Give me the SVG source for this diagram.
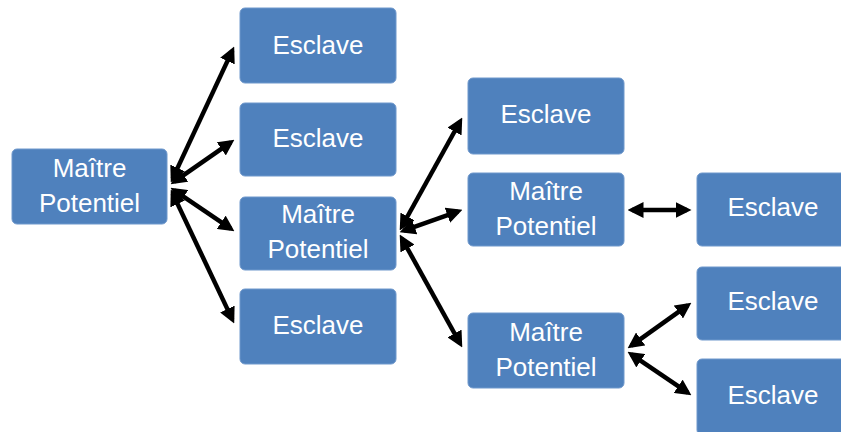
<svg xmlns="http://www.w3.org/2000/svg" width="841" height="432" viewBox="0 0 841 432">
  <style>
    .box { fill: #4f81bd; stroke: #6f98cc; stroke-width: 1; }
    .lbl { fill: #ffffff; font-family: "Liberation Sans", Arial, sans-serif; font-size: 26px; text-anchor: middle; }
    .link { stroke: #000000; stroke-width: 4.5; fill: none; marker-start: url(#head); marker-end: url(#head); }
  </style>
  <defs>
    <marker id="head" viewBox="0 0 16 16" markerWidth="16" markerHeight="16" markerUnits="userSpaceOnUse" refX="11.5" refY="8" orient="auto-start-reverse">
      <path d="M0,0 L16,8 L0,16 z" fill="#000000"/>
    </marker>
  </defs>

  <rect width="841" height="432" fill="#ffffff"/>

  <!-- connectors -->
  <g id="connectors">
    <line class="link" x1="172.7" y1="178.4" x2="232.3" y2="50.6"/>
    <line class="link" x1="174.3" y1="181.7" x2="230.7" y2="142.3"/>
    <line class="link" x1="174.3" y1="190.3" x2="230.7" y2="228.7"/>
    <line class="link" x1="172.7" y1="193.6" x2="232.3" y2="319.4"/>
    <line class="link" x1="401.9" y1="226.5" x2="460.1" y2="121.5"/>
    <line class="link" x1="403.8" y1="230.7" x2="458.2" y2="211.3"/>
    <line class="link" x1="401.9" y1="238.5" x2="460.1" y2="343.5"/>
    <line class="link" x1="632" y1="210" x2="687" y2="210"/>
    <line class="link" x1="631.3" y1="345.7" x2="687.7" y2="305.3"/>
    <line class="link" x1="631.3" y1="354.3" x2="687.7" y2="392.7"/>
  </g>

  <!-- first level -->
  <g id="maitre-1">
    <rect class="box" x="12" y="149" width="155" height="75" rx="5"/>
    <text class="lbl" x="89.5" y="177">Maître</text>
    <text class="lbl" x="89.5" y="212">Potentiel</text>
  </g>

  <!-- second level -->
  <g id="esclave-1">
    <rect class="box" x="240" y="8" width="156" height="75" rx="5"/>
    <text class="lbl" x="318" y="54">Esclave</text>
  </g>
  <g id="esclave-2">
    <rect class="box" x="240" y="103" width="156" height="73" rx="5"/>
    <text class="lbl" x="318" y="147">Esclave</text>
  </g>
  <g id="maitre-2">
    <rect class="box" x="240" y="197" width="156" height="73" rx="5"/>
    <text class="lbl" x="318" y="223">Maître</text>
    <text class="lbl" x="318" y="258">Potentiel</text>
  </g>
  <g id="esclave-3">
    <rect class="box" x="240" y="289" width="156" height="75" rx="5"/>
    <text class="lbl" x="318" y="334">Esclave</text>
  </g>

  <!-- third level -->
  <g id="esclave-4">
    <rect class="box" x="468" y="78" width="156" height="76" rx="5"/>
    <text class="lbl" x="546" y="123">Esclave</text>
  </g>
  <g id="maitre-3">
    <rect class="box" x="468" y="173" width="156" height="73" rx="5"/>
    <text class="lbl" x="546" y="200">Maître</text>
    <text class="lbl" x="546" y="235">Potentiel</text>
  </g>
  <g id="maitre-4">
    <rect class="box" x="468" y="313" width="156" height="75" rx="5"/>
    <text class="lbl" x="546" y="341">Maître</text>
    <text class="lbl" x="546" y="376">Potentiel</text>
  </g>

  <!-- fourth level -->
  <g id="esclave-5">
    <rect class="box" x="697" y="173" width="156" height="73" rx="5"/>
    <text class="lbl" x="773" y="216">Esclave</text>
  </g>
  <g id="esclave-6">
    <rect class="box" x="697" y="267" width="156" height="73" rx="5"/>
    <text class="lbl" x="773" y="310">Esclave</text>
  </g>
  <g id="esclave-7">
    <rect class="box" x="697" y="359" width="156" height="76" rx="5"/>
    <text class="lbl" x="773" y="404">Esclave</text>
  </g>
</svg>
